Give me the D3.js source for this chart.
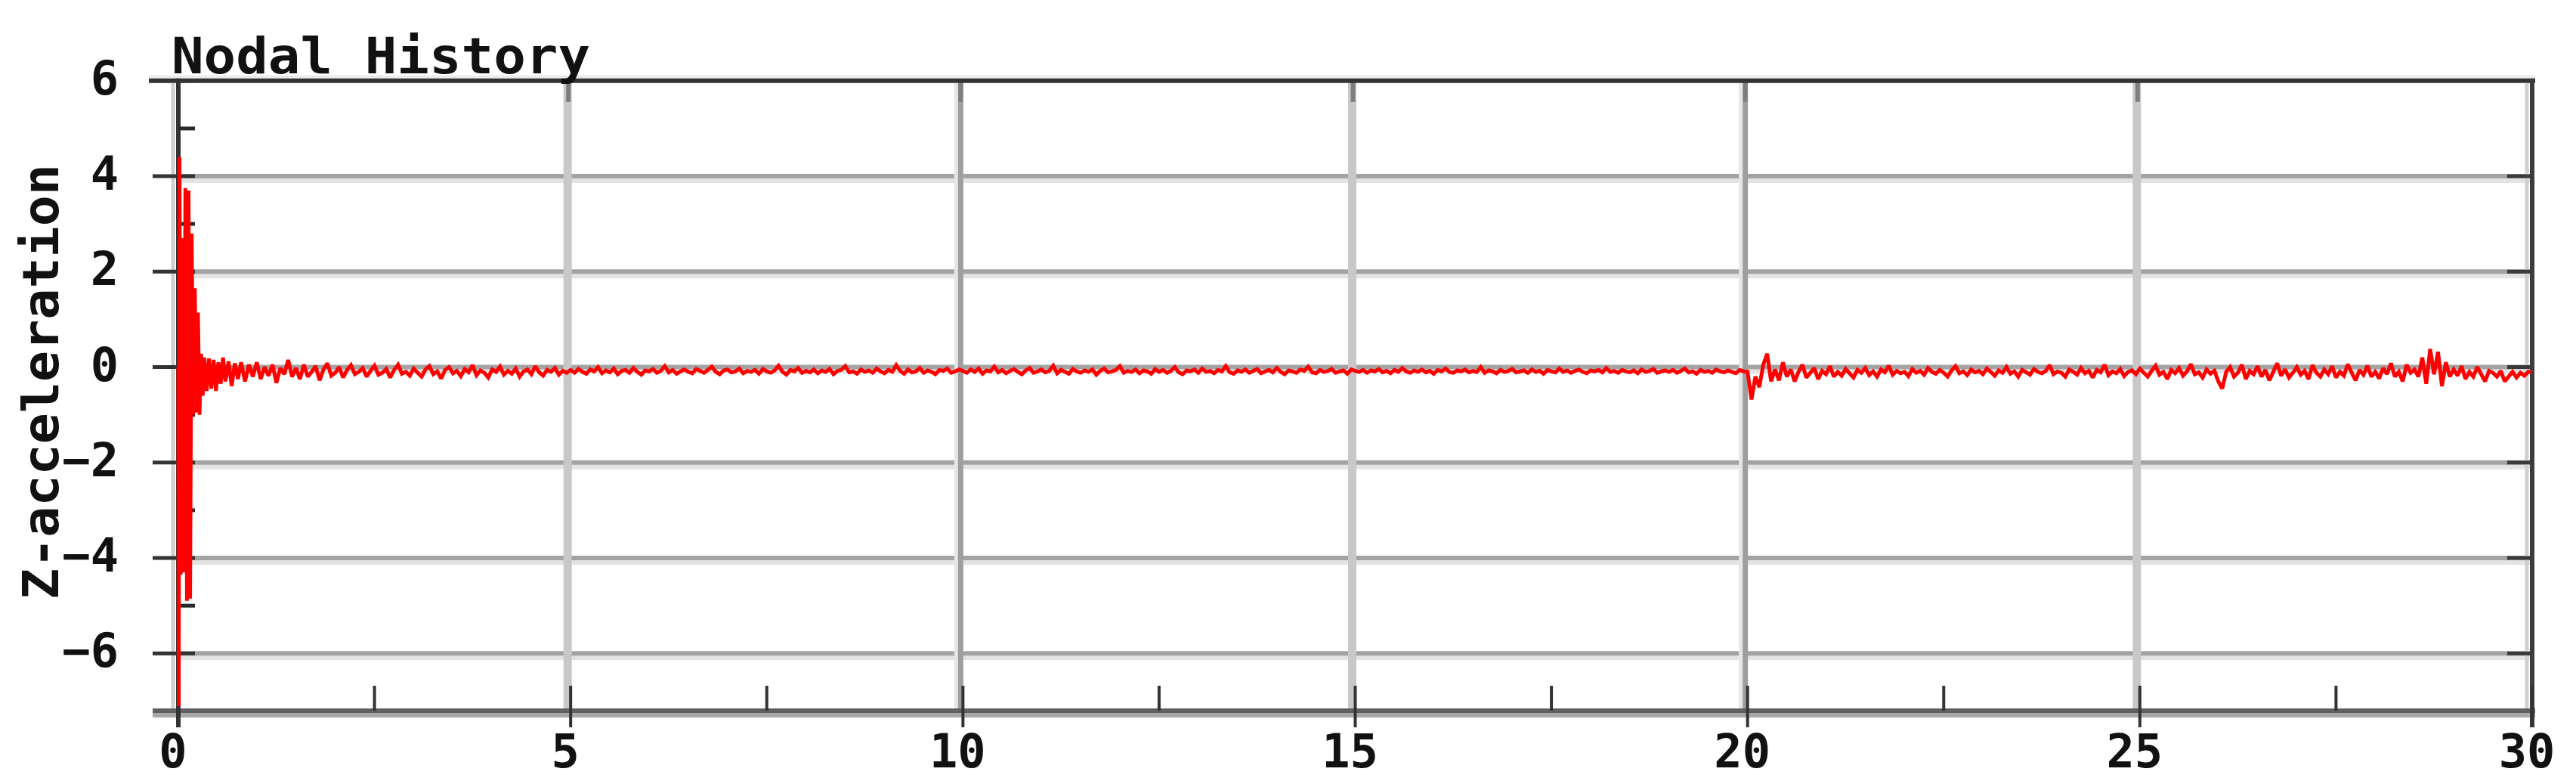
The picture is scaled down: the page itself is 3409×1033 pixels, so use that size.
<!DOCTYPE html>
<html><head><meta charset="utf-8">
<script src="https://cdn.jsdelivr.net/npm/d3@7"></script>
<style>html,body{margin:0;padding:0;background:#fff;} svg{display:block}</style>
</head><body>
<svg id="chart" width="3409" height="1033"></svg>
<script>
// ---------- texts & ticks ----------
const titleText = "Nodal History";
const yTitleText = "Z-acceleration";
const xTicks = [0, 5, 10, 15, 20, 25, 30];
const xTickLabels = ["0", "5", "10", "15", "20", "25", "30"];
const xMinorTicks = [2.5, 7.5, 12.5, 17.5, 22.5, 27.5];
const yTicks = [-6, -4, -2, 0, 2, 4, 6];
const yTickLabels = ["\u22126", "\u22124", "\u22122", "0", "2", "4", "6"];
const yMinorTicks = [-5, -3, -1, 1, 3, 5];

// ---------- data: early transient (explicit times) ----------
const earlyTimes = [0, 0.005, 0.015, 0.03, 0.05, 0.07, 0.09, 0.11, 0.13, 0.15, 0.17, 0.19, 0.21, 0.23, 0.25, 0.27, 0.29, 0.31, 0.33, 0.36,
  0.39, 0.42, 0.45, 0.48, 0.51, 0.54, 0.57, 0.60, 0.64, 0.68, 0.72, 0.76, 0.80, 0.85, 0.90, 0.95, 1.0, 1.05, 1.1, 1.15,
  1.2, 1.25, 1.3, 1.35, 1.4, 1.45];
const earlyValues = [0, -7.1, 4.4, -4.35, 2.7, -4.3, 3.75, -4.9, 3.7, -4.85, 2.8, -1.0, 1.65, -0.95, 1.14, -1.0, 0.28, -0.6, 0.2, -0.5,
  0.18, -0.45, 0.15, -0.5, 0.1, -0.35, 0.2, -0.3, 0.12, -0.4, 0.08, -0.25, 0.1, -0.3, 0.05, -0.2, 0.1, -0.25, 0.0, -0.18,
  0.05, -0.33, -0.02, -0.15, 0.15, -0.2];

// ---------- data: sampled segments (every 0.05 s) ----------
const sampleStep = 0.05;
const seg1Start = 1.5;
const seg1Values = [
  -0.02,-0.25,0.05,-0.2,-0.1,0.02,-0.28,-0.05,0.08,-0.18,
  -0.12,0.0,-0.22,-0.06,0.04,-0.15,-0.1,-0.02,-0.2,-0.08,
  0.03,-0.16,-0.12,-0.04,-0.22,-0.06,0.05,-0.14,-0.1,-0.18,
  -0.03,-0.12,-0.2,-0.05,0.02,-0.15,-0.09,-0.24,-0.06,0.0,
  -0.13,-0.08,-0.19,-0.04,-0.11,0.04,-0.17,-0.07,-0.12,-0.22,
  -0.05,-0.1,0.01,-0.16,-0.08,-0.14,-0.03,-0.2,-0.09,-0.05,
  -0.15,0.02,-0.11,-0.18,-0.06,-0.1,-0.02,-0.16,-0.08,-0.12];
const seg2Start = 5;
const seg2Values = [
  -0.06,-0.12,-0.04,-0.1,-0.14,-0.05,-0.09,0.0,-0.13,-0.07,
  -0.11,-0.03,-0.15,-0.08,-0.06,-0.12,-0.02,-0.1,-0.16,-0.07,
  -0.09,-0.04,-0.12,-0.08,0.02,-0.11,-0.06,-0.14,-0.09,-0.05,
  -0.1,-0.13,-0.04,-0.08,-0.12,-0.06,0.01,-0.1,-0.15,-0.07,
  -0.05,-0.11,-0.09,-0.03,-0.13,-0.08,-0.1,-0.06,-0.14,-0.04,
  -0.09,-0.12,-0.07,0.03,-0.1,-0.16,-0.06,-0.09,-0.02,-0.12,
  -0.08,-0.11,-0.05,-0.13,-0.07,-0.1,-0.04,-0.15,-0.08,-0.06,
  0.02,-0.11,-0.09,-0.14,-0.05,-0.1,-0.07,-0.12,-0.03,-0.09,
  -0.13,-0.06,-0.1,0.04,-0.08,-0.14,-0.05,-0.11,-0.09,-0.02,
  -0.12,-0.07,-0.1,-0.15,-0.06,-0.08,-0.03,-0.12,-0.09,-0.05];
const seg3Start = 10;
const seg3Values = [
  -0.08,-0.12,-0.05,-0.1,-0.03,-0.14,-0.07,-0.09,0.01,-0.11,
  -0.06,-0.13,-0.08,-0.04,-0.1,-0.15,-0.07,-0.02,-0.12,-0.09,
  -0.05,-0.11,-0.08,0.03,-0.13,-0.06,-0.1,-0.14,-0.04,-0.09,
  -0.12,-0.07,-0.1,-0.05,-0.16,-0.08,-0.03,-0.11,-0.09,-0.06,
  0.02,-0.12,-0.08,-0.1,-0.05,-0.13,-0.07,-0.09,-0.14,-0.04,
  -0.1,-0.06,-0.12,-0.08,0.0,-0.11,-0.15,-0.07,-0.09,-0.05,
  -0.12,-0.03,-0.1,-0.08,-0.13,-0.06,-0.09,0.02,-0.11,-0.14,
  -0.07,-0.1,-0.05,-0.12,-0.08,-0.04,-0.13,-0.09,-0.06,-0.11,
  -0.02,-0.1,-0.15,-0.07,-0.09,-0.12,-0.05,-0.08,0.01,-0.11,
  -0.13,-0.06,-0.1,-0.08,-0.04,-0.12,-0.09,-0.07,-0.14,-0.05];
const seg4Start = 15;
const seg4Values = [
  -0.08,-0.1,-0.06,-0.12,-0.07,-0.09,-0.04,-0.11,-0.08,-0.13,
  -0.06,-0.1,-0.02,-0.09,-0.12,-0.07,-0.1,-0.05,-0.11,-0.08,
  -0.14,-0.06,-0.09,-0.03,-0.1,-0.12,-0.07,-0.09,-0.05,-0.11,
  -0.08,-0.1,0.0,-0.12,-0.07,-0.09,-0.13,-0.06,-0.1,-0.08,
  -0.04,-0.11,-0.09,-0.07,-0.12,-0.05,-0.1,-0.08,-0.14,-0.06,
  -0.09,-0.11,-0.03,-0.1,-0.07,-0.12,-0.08,-0.05,-0.1,-0.13,
  -0.07,-0.09,-0.06,-0.11,-0.02,-0.1,-0.08,-0.12,-0.06,-0.09,
  -0.11,-0.07,-0.13,-0.05,-0.1,-0.08,-0.04,-0.12,-0.09,-0.07,
  -0.1,-0.06,-0.12,-0.08,-0.03,-0.11,-0.09,-0.14,-0.06,-0.1,
  -0.08,-0.12,-0.05,-0.09,-0.11,-0.07,-0.1,-0.13,-0.06,-0.09];
const seg5Start = 20;
const seg5Values = [
  -0.1,-0.68,-0.2,-0.42,0.05,0.28,-0.3,-0.05,-0.28,0.1,
  -0.2,-0.05,-0.3,-0.1,0.05,-0.22,-0.12,-0.02,-0.25,-0.08,
  -0.15,0.02,-0.2,-0.1,-0.18,-0.04,-0.13,-0.22,-0.06,-0.12,
  -0.02,-0.17,-0.09,-0.2,-0.05,-0.11,0.03,-0.16,-0.08,-0.13,
  -0.1,-0.19,-0.04,-0.12,-0.08,-0.16,-0.02,-0.1,-0.14,-0.06,
  -0.12,-0.2,-0.07,0.02,-0.13,-0.09,-0.17,-0.05,-0.11,-0.08,
  -0.15,-0.03,-0.1,-0.18,-0.07,-0.12,0.0,-0.14,-0.09,-0.2,
  -0.06,-0.11,-0.16,-0.04,-0.1,-0.13,-0.08,0.04,-0.15,-0.09,
  -0.12,-0.2,-0.05,-0.1,-0.16,-0.02,-0.13,-0.08,-0.22,-0.06,
  -0.11,0.05,-0.17,-0.09,-0.13,-0.04,-0.19,-0.1,-0.07,-0.15,
  -0.03,-0.12,-0.2,-0.08,0.03,-0.16,-0.1,-0.25,-0.06,-0.13,
  -0.02,-0.18,-0.09,0.06,-0.15,-0.11,-0.22,-0.05,-0.14,-0.08,
  -0.3,-0.45,-0.1,0.0,-0.2,-0.12,0.05,-0.25,-0.08,-0.15,
  0.02,-0.2,-0.06,-0.28,-0.1,0.08,-0.18,-0.05,-0.22,-0.12,
  0.0,-0.16,-0.08,-0.25,0.04,-0.12,-0.2,-0.05,-0.15,0.02,
  -0.22,-0.1,-0.18,0.06,-0.12,-0.28,-0.06,-0.16,0.03,-0.2,
  -0.1,-0.24,-0.02,-0.15,0.08,-0.2,-0.1,-0.3,0.05,-0.12,
  -0.05,-0.2,0.2,-0.35,0.38,-0.15,0.32,-0.4,0.1,-0.2,
  -0.05,-0.18,0.02,-0.25,-0.1,-0.2,0.0,-0.15,-0.3,-0.08,
  -0.12,-0.2,-0.08,-0.3,-0.2,-0.1,-0.22,-0.12,-0.18,-0.1,
  -0.1];

// ---------- assemble ----------
const points = earlyTimes.map((t, i) => ({t, v: earlyValues[i]}));
[[seg1Start, seg1Values], [seg2Start, seg2Values], [seg3Start, seg3Values], [seg4Start, seg4Values], [seg5Start, seg5Values]]
  .forEach(([s, vals]) => vals.forEach((v, i) => points.push({t: s + i * sampleStep, v})));

// ---------- scales ----------
const x = d3.scaleLinear().domain([0, 30]).range([236, 3351]);
const y = d3.scaleLinear().domain([-7.2, 6]).range([940, 106.8]);

const svg = d3.select("#chart");
svg.append("rect").attr("width", 3409).attr("height", 1033).attr("fill", "#fff");
const FONT = "'DejaVu Sans Mono', 'Liberation Mono', monospace";

// horizontal gridlines
const hg = svg.append("g");
yTicks.filter(v => v < 6).forEach(v => {
  hg.append("line").attr("x1", x(0)).attr("x2", x(30)).attr("y1", y(v) + 6).attr("y2", y(v) + 6)
    .attr("stroke", "#e3e3e3").attr("stroke-width", 6);
  hg.append("line").attr("x1", x(0)).attr("x2", x(30)).attr("y1", y(v)).attr("y2", y(v))
    .attr("stroke", "#a3a3a3").attr("stroke-width", 6);
});

// vertical gridlines
const vg = svg.append("g");
xTicks.filter(v => v > 0 && v < 30).forEach(v => {
  if (v % 10 === 0) {
    vg.append("line").attr("x1", x(v) - 9).attr("x2", x(v) - 9).attr("y1", y(6)).attr("y2", y(-7.2))
      .attr("stroke", "#e6e6e6").attr("stroke-width", 5);
    vg.append("line").attr("x1", x(v) - 3).attr("x2", x(v) - 3).attr("y1", y(6)).attr("y2", y(-7.2))
      .attr("stroke", "#9e9e9e").attr("stroke-width", 7);
  } else {
    vg.append("line").attr("x1", x(v) - 4).attr("x2", x(v) - 4).attr("y1", y(6)).attr("y2", y(-7.2))
      .attr("stroke", "#c8c8c8").attr("stroke-width", 11);
  }
  // top inward tick
  vg.append("line").attr("x1", x(v) - 3).attr("x2", x(v) - 3).attr("y1", y(6)).attr("y2", y(6) + 28)
    .attr("stroke", "#7e7e7e").attr("stroke-width", 6);
});

// frame
const fr = svg.append("g");
fr.append("line").attr("x1", 197).attr("x2", x(30) + 4).attr("y1", y(6) - 5).attr("y2", y(6) - 5)
  .attr("stroke", "#eaeaea").attr("stroke-width", 4);
fr.append("line").attr("x1", 197).attr("x2", x(30) + 4).attr("y1", y(6)).attr("y2", y(6))
  .attr("stroke", "#333").attr("stroke-width", 6);
fr.append("line").attr("x1", 202).attr("x2", x(30) + 4).attr("y1", y(-7.2) + 6).attr("y2", y(-7.2) + 6)
  .attr("stroke", "#a8a8a8").attr("stroke-width", 6);
fr.append("line").attr("x1", 202).attr("x2", x(30) + 4).attr("y1", y(-7.2)).attr("y2", y(-7.2))
  .attr("stroke", "#606060").attr("stroke-width", 6);
fr.append("line").attr("x1", x(0) - 7).attr("x2", x(0) - 7).attr("y1", y(6) + 3).attr("y2", y(-7.2) - 3)
  .attr("stroke", "#cfcfcf").attr("stroke-width", 5);
fr.append("line").attr("x1", x(0)).attr("x2", x(0)).attr("y1", y(6) - 3).attr("y2", 962)
  .attr("stroke", "#333").attr("stroke-width", 6);
fr.append("line").attr("x1", x(30) - 7).attr("x2", x(30) - 7).attr("y1", y(6) + 3).attr("y2", y(-7.2) - 3)
  .attr("stroke", "#cfcfcf").attr("stroke-width", 5);
fr.append("line").attr("x1", x(30)).attr("x2", x(30)).attr("y1", y(6) - 3).attr("y2", 962)
  .attr("stroke", "#3c3c3c").attr("stroke-width", 6);

fr.selectAll(".ylmaj").data(yTicks).join("line")
  .attr("x1", 202).attr("x2", 258).attr("y1", d => y(d)).attr("y2", d => y(d))
  .attr("stroke", "#333").attr("stroke-width", 5);
fr.selectAll(".ylmin").data(yMinorTicks).join("line")
  .attr("x1", x(0)).attr("x2", 258).attr("y1", d => y(d)).attr("y2", d => y(d))
  .attr("stroke", "#2a2a2a").attr("stroke-width", 5);
fr.selectAll(".yrmaj").data(yTicks.filter(v => v < 6)).join("line")
  .attr("x1", x(30) - 33).attr("x2", x(30)).attr("y1", d => y(d)).attr("y2", d => y(d))
  .attr("stroke", "#3a3a3a").attr("stroke-width", 5);
fr.selectAll(".xmaj").data(xTicks).join("line")
  .attr("x1", d => x(d)).attr("x2", d => x(d)).attr("y1", 907).attr("y2", 962)
  .attr("stroke", "#333").attr("stroke-width", 4);
fr.selectAll(".xmin").data(xMinorTicks).join("line")
  .attr("x1", d => x(d)).attr("x2", d => x(d)).attr("y1", 907).attr("y2", y(-7.2))
  .attr("stroke", "#333").attr("stroke-width", 4);

// data line
const line = d3.line().x(d => x(d.t)).y(d => y(d.v));
svg.append("path").datum(points).attr("d", line)
  .attr("fill", "none").attr("stroke", "#ff0000").attr("stroke-width", 5)
  .attr("stroke-linejoin", "miter").attr("stroke-miterlimit", 2);

// labels
const lab = svg.append("g").attr("font-family", FONT).attr("font-weight", "bold").attr("fill", "#111");
lab.selectAll(".xl").data(xTicks).join("text")
  .attr("x", d => x(d) - 7).attr("y", 1015).attr("text-anchor", "middle")
  .attr("font-size", 62).text((d, i) => xTickLabels[i]);
lab.selectAll(".yl").data(yTicks).join("text")
  .attr("x", 157).attr("y", d => y(d) + 18).attr("text-anchor", "end")
  .attr("font-size", 62).text((d, i) => yTickLabels[i]);
lab.append("text").attr("x", 227).attr("y", 97).attr("font-size", 66)
  .attr("textLength", 554).attr("lengthAdjust", "spacingAndGlyphs").text(titleText);
lab.append("text").attr("transform", "translate(77,505) rotate(-90)")
  .attr("text-anchor", "middle").attr("font-size", 66)
  .attr("textLength", 576).attr("lengthAdjust", "spacingAndGlyphs").text(yTitleText);
</script>
</body></html>
